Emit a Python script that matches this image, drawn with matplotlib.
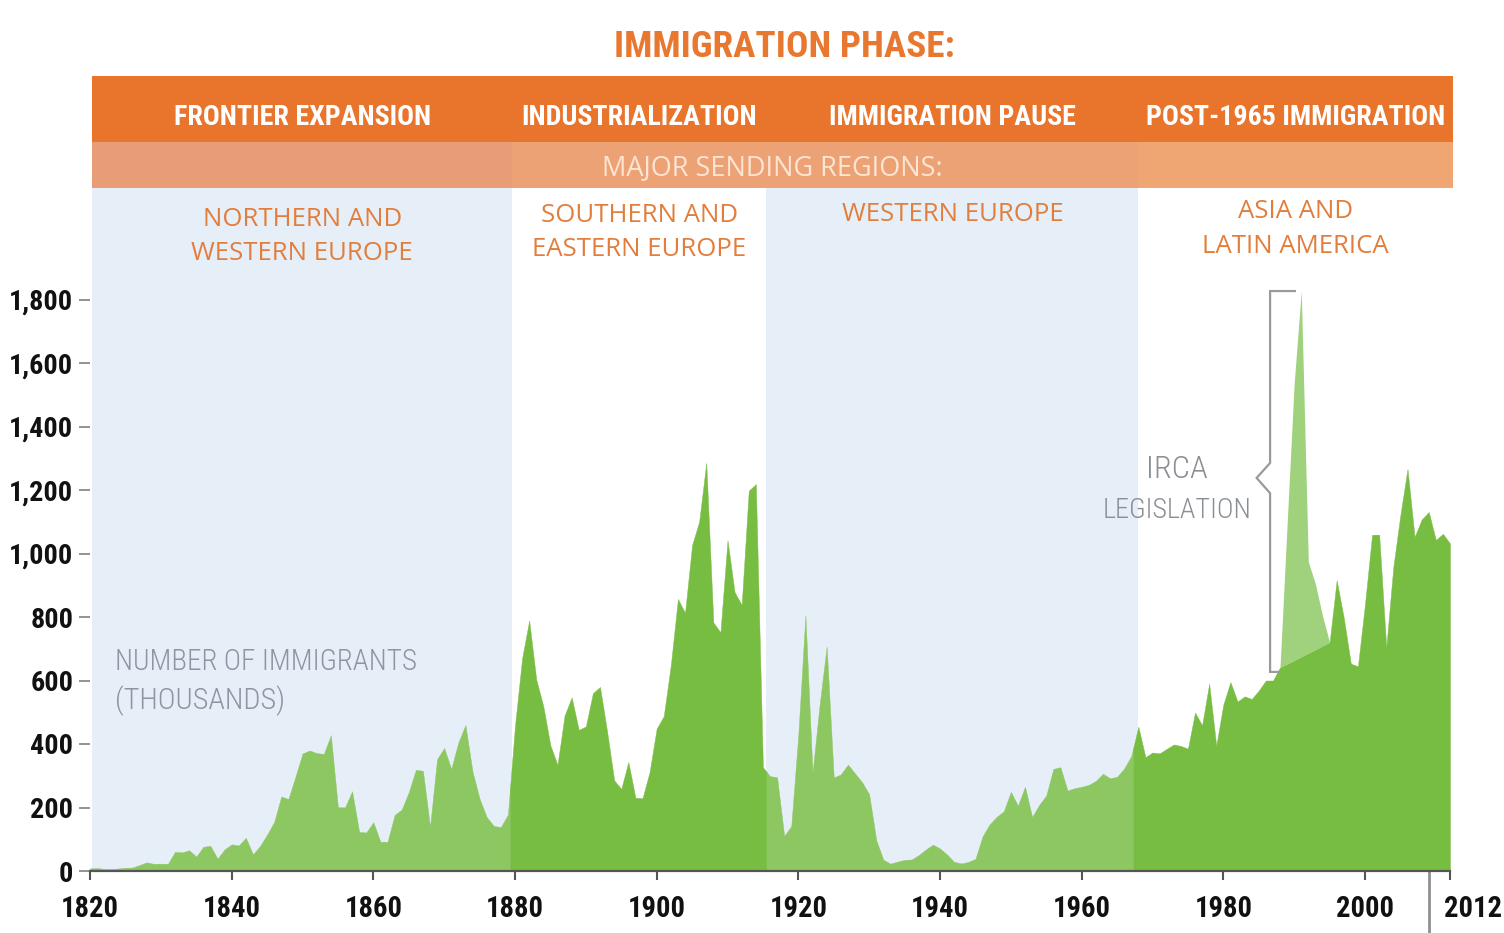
import os
import numpy as np
import matplotlib
matplotlib.use("Agg")
import matplotlib.pyplot as plt
from matplotlib import font_manager as fm
from matplotlib.patches import Rectangle
from matplotlib.transforms import ScaledTranslation

# ---------------- data ----------------
years = np.arange(1820, 2013)
# annual number of immigrants, thousands
immigrants = np.array([
    8.4, 9.1, 6.9, 6.4, 7.9, 10.2, 10.8, 18.9, 27.4, 22.5,            # 1820s
    23.3, 22.6, 60.5, 58.6, 65.4, 45.4, 76.2, 79.3, 38.9, 68.1,       # 1830s
    84.1, 80.3, 104.6, 52.5, 78.6, 114.4, 154.4, 235.0, 226.5, 297.0, # 1840s
    370.0, 379.5, 371.6, 368.6, 427.8, 200.9, 200.4, 251.3, 123.1, 121.3,  # 1850s
    153.6, 91.9, 92.0, 176.3, 193.4, 248.1, 318.6, 315.7, 138.8, 352.8,    # 1860s
    387.2, 321.4, 404.8, 459.8, 313.3, 227.5, 170.0, 141.9, 138.5, 177.8,  # 1870s
    457.3, 669.4, 789.0, 603.3, 518.6, 395.3, 334.2, 490.1, 546.9, 444.4,  # 1880s
    455.3, 560.3, 579.7, 439.7, 285.6, 258.5, 343.3, 230.8, 229.3, 311.7,  # 1890s
    448.6, 487.9, 648.7, 857.0, 812.9, 1026.5, 1100.7, 1285.3, 782.9, 751.8,  # 1900s
    1041.6, 878.6, 838.2, 1197.9, 1218.5, 326.7, 298.8, 295.4, 110.6, 141.1,  # 1910s
    430.0, 805.2, 309.6, 522.9, 706.9, 294.3, 304.5, 335.2, 307.3, 279.7,  # 1920s
    241.7, 97.1, 35.6, 23.1, 29.5, 35.0, 36.3, 50.2, 67.9, 83.0,           # 1930s
    70.8, 51.8, 28.8, 23.7, 28.6, 38.1, 108.7, 147.3, 170.6, 188.3,        # 1940s
    249.2, 205.7, 265.5, 170.4, 208.2, 237.8, 321.6, 326.9, 253.3, 260.7,  # 1950s
    265.4, 271.3, 283.8, 306.3, 292.2, 296.7, 323.0, 362.0, 454.4, 358.6,  # 1960s
    373.3, 370.5, 384.7, 398.5, 393.9, 385.4, 499.1, 458.8, 589.8, 394.2,  # 1970s
    524.3, 595.0, 533.6, 550.1, 541.8, 568.1, 600.0, 599.9, 641.3, 1090.2, # 1980s
    1535.9, 1826.6, 974.0, 903.9, 804.0, 720.2, 915.6, 797.8, 653.2, 644.8,  # 1990s
    841.0, 1058.9, 1059.4, 703.5, 957.9, 1122.3, 1266.1, 1052.4, 1107.1, 1130.8,  # 2000s
    1042.6, 1062.0, 1031.6,                                            # 2010-2012
])
# level without the IRCA legalisations
irca_years = np.arange(1988, 1996)
without_irca = np.array([641.3, 652.0, 663.0, 675.0, 686.0, 697.0, 709.0, 720.2])

phase_names = ["FRONTIER EXPANSION", "INDUSTRIALIZATION",
               "IMMIGRATION PAUSE", "POST-1965 IMMIGRATION"]
phase_bounds = [1820.3, 1879.6, 1915.5, 1968.0, 2012.4]
fill_breaks = [1820.0, 1879.3, 1915.5, 1967.3, 2012.0]
region_lines = [["NORTHERN AND", "WESTERN EUROPE"],
                ["SOUTHERN AND", "EASTERN EUROPE"],
                ["WESTERN EUROPE"],
                ["ASIA AND", "LATIN AMERICA"]]
x_ticks = [1820, 1840, 1860, 1880, 1900, 1920, 1940, 1960, 1980, 2000, 2012]
x_tick_labels = [str(v) for v in x_ticks]
y_ticks = [0, 200, 400, 600, 800, 1000, 1200, 1400, 1600, 1800]
y_tick_labels = ["0", "200", "400", "600", "800", "1,000", "1,200",
                 "1,400", "1,600", "1,800"]

# ---------------- styles ----------------
LIGHT_GREEN = "#8dc761"
DARK_GREEN = "#77bd42"
IRCA_GREEN = "#a0d27e"
BG_BLUE = "#e6eff8"
ORANGE_DARK = "#e9752c"
ORANGE_LIGHT = ["#e99d76", "#eca274", "#eca274", "#efa672"]
REGION_ORANGE = "#e27d3c"
GRAY_TEXT = "#8c95a0"


def pick_font(weight):
    """Find a condensed font file; fall back to Roboto."""
    prefixes = ["notosans-extracondensed", "notosansdisplay-extracondensed",
                "robotocondensed-", "notosans-condensed", "opensans-condensed",
                "liberationsansnarrow-", "dejavusanscondensed"]
    wanted = {"bold": ["bold", "semibold"],
              "regular": ["", "regular", "book"],
              "light": ["light", "", "regular"]}[weight]
    files = {}
    for e in fm.fontManager.ttflist:
        base = os.path.splitext(os.path.basename(e.fname))[0].lower()
        files[base] = e.fname
    for p in prefixes:
        for w in wanted:
            for base, fn in files.items():
                if base.startswith(p):
                    suf = base[len(p):].replace("-", "").replace("_", "")
                    if suf == w:
                        return fm.FontProperties(fname=fn)
    return fm.FontProperties(family="Roboto", weight=weight if weight != "regular" else "normal")


FP_BOLD = pick_font("bold")
FP_REG = pick_font("regular")
FP_LIGHT = pick_font("light")

W, H = 1504, 933
fig = plt.figure(figsize=(W / 100, H / 100), dpi=100)
fig.patch.set_facecolor("white")
AX_L, AX_R, AX_B, AX_T = 90, 1450, 871, 188
ax = fig.add_axes([AX_L / W, (H - AX_B) / H, (AX_R - AX_L) / W, (AX_B - AX_T) / H])
ymax = (AX_B - AX_T) * 200 / 63.5
ax.set_xlim(1820, 2012)
ax.set_ylim(0, ymax)
ax.set_facecolor("white")


def ay(ypx):
    return (AX_B - ypx) / (AX_B - AX_T)


xt = ax.get_xaxis_transform()

# background bands
for i in (0, 2):
    ax.axvspan(phase_bounds[i], phase_bounds[i + 1], color=BG_BLUE, lw=0, zorder=0)

# area fills
base = immigrants.astype(float).copy()
base[irca_years - years[0]] = without_irca
fill_cols = [LIGHT_GREEN, DARK_GREEN, LIGHT_GREEN, DARK_GREEN]
for i in range(4):
    a, b = fill_breaks[i], fill_breaks[i + 1]
    inner = years[(years > a) & (years < b)]
    xs = np.concatenate([[a], inner, [b]])
    ys = np.interp(xs, years, base)
    ax.fill_between(xs, 0, ys, color=fill_cols[i], lw=0.3, edgecolor=fill_cols[i], zorder=2)
ax.fill_between(irca_years, without_irca, immigrants[irca_years - years[0]],
                color=IRCA_GREEN, lw=0, zorder=3)

# axes styling
for s in ("top", "right", "left"):
    ax.spines[s].set_visible(False)
ax.spines["bottom"].set_color("#555555")
ax.spines["bottom"].set_linewidth(1.6)
ax.spines["bottom"].set_zorder(5)

ax.set_xticks(x_ticks, labels=x_tick_labels, fontproperties=FP_BOLD, fontsize=35)
ax.set_yticks(y_ticks, labels=y_tick_labels, fontproperties=FP_BOLD, fontsize=31)
ax.tick_params(axis="x", length=6.5, width=1.5, color="#555555", pad=11, labelcolor="#111111")
ax.tick_params(axis="y", length=8, width=1.3, color="#8a8a8a", pad=4, labelcolor="#111111")

# separator line below axis near 2009
ax.plot([2009.05, 2009.05], [0, -(H - AX_B) / (AX_B - AX_T)], transform=xt,
        color="#8f8f8f", lw=2, clip_on=False, zorder=5)

# header bands
y_light0, y_light1 = ay(188), ay(142)
y_dark1 = ay(76)
ax.add_patch(Rectangle((phase_bounds[0], y_light1), phase_bounds[-1] - phase_bounds[0],
                       y_dark1 - y_light1, transform=xt, color=ORANGE_DARK, lw=0,
                       clip_on=False, zorder=4))
for i in range(4):
    ax.add_patch(Rectangle((phase_bounds[i], y_light0), phase_bounds[i + 1] - phase_bounds[i],
                           y_light1 - y_light0, transform=xt, color=ORANGE_LIGHT[i], lw=0,
                           clip_on=False, zorder=4))

fit_list = []  # (text, target width px)

centers = [(phase_bounds[i] + phase_bounds[i + 1]) / 2 for i in range(4)]
phase_widths = [258, 238, 250, 302]
phase_texts = []
for c, name in zip(centers, phase_names):
    t = ax.text(c, ay(125), name, transform=xt, ha="center", va="baseline",
                fontproperties=FP_BOLD, fontsize=30.4, color="white",
                zorder=6, clip_on=False)
    phase_texts.append(t)

ax.text((phase_bounds[0] + phase_bounds[-1]) / 2, ay(175), "MAJOR SENDING REGIONS:",
        transform=xt, ha="center", va="baseline", fontfamily="Open Sans",
        fontsize=19.5, color="#fde4d3", zorder=6, clip_on=False)

region_baselines = [[226, 260], [222, 256], [221], [218, 253]]
for c, lines, bls in zip(centers, region_lines, region_baselines):
    for line, bl in zip(lines, bls):
        ax.text(c, ay(bl), line, transform=xt, ha="center", va="baseline",
                fontfamily="Open Sans", fontsize=18.5, color=REGION_ORANGE, zorder=6)

# title
t = fig.text(784 / W, 1 - 57 / H, "IMMIGRATION PHASE:", ha="center", va="baseline",
             fontproperties=FP_BOLD, fontsize=42.5, color="#e8782f")
fit_list.append((t, 340))

# axis caption
for line, bl, wd in zip(["NUMBER OF IMMIGRANTS", "(THOUSANDS)"], [670, 709], [302, 170]):
    t = ax.text(1823.5, ay(bl), line, transform=xt, ha="left", va="baseline",
                fontproperties=FP_LIGHT, fontsize=27.3, color=GRAY_TEXT, zorder=6)
    fit_list.append((t, wd))

# IRCA annotation
for line, bl, wd in zip(["IRCA", "LEGISLATION"], [478, 518], [62, 150]):
    t = ax.text(1973.5, ay(bl), line, transform=xt, ha="center", va="baseline",
                fontproperties=FP_LIGHT, fontsize=30.4, color="#8a8f96", zorder=6)
    fit_list.append((t, wd))

peak = immigrants[1991 - years[0]]
bx = [1990.1, 1986.6, 1986.6, 1984.7, 1986.6, 1986.6, 1987.7]
by = [peak, peak, 1285, 1238, 1190, 627, 627]
ax.plot(bx, by, color="#9a9a9a", lw=1.6, zorder=4, solid_joinstyle="miter")

# shrink condensed texts that come out wider than the reference
renderer = fig.canvas.get_renderer()
for t, wd in fit_list:
    w = t.get_window_extent(renderer).width
    if w > wd:
        t.set_fontsize(t.get_fontsize() * wd / w)

# one common size for the four phase labels
scale = min(1.0, min(wd / t.get_window_extent(renderer).width
                     for t, wd in zip(phase_texts, phase_widths)))
for t in phase_texts:
    t.set_fontsize(t.get_fontsize() * scale)

fig.canvas.draw()
xl = ax.get_xticklabels()
wx = max(l.get_window_extent(renderer).width for l in xl)
if wx > 58:
    for l in xl:
        l.set_fontsize(l.get_fontsize() * 58 / wx)
yl = ax.get_yticklabels()
wy = max(l.get_window_extent(renderer).width for l in yl)
if wy > 64:
    for l in yl:
        l.set_fontsize(l.get_fontsize() * 64 / wy)

# the last year label sits to the right of the separator line
xl[-1].set_transform(xl[-1].get_transform() + ScaledTranslation(0.23, 0, fig.dpi_scale_trans))

fig.savefig("out.png", dpi=100)
